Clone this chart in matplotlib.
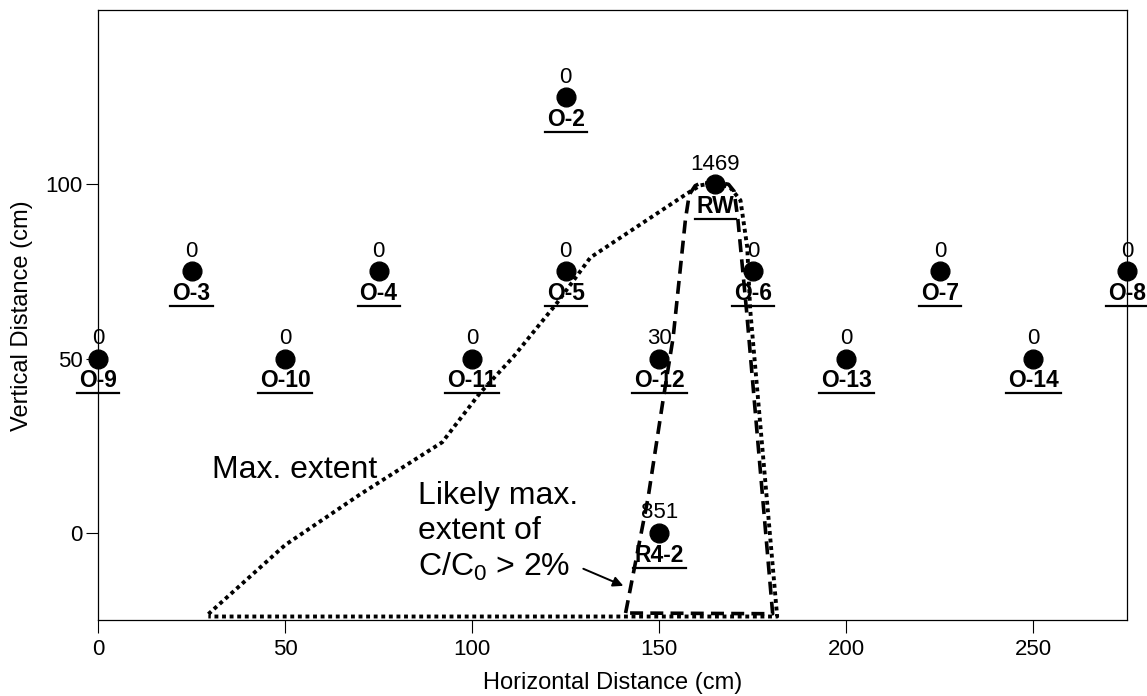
import matplotlib
matplotlib.use("Agg")
import matplotlib.pyplot as plt
from matplotlib.lines import Line2D
from matplotlib.transforms import IdentityTransform

plt.rcParams["font.family"] = ["Liberation Sans", "DejaVu Sans"]
plt.rcParams["mathtext.fontset"] = "custom"
plt.rcParams["mathtext.rm"] = "Liberation Sans"
plt.rcParams["mathtext.it"] = "Liberation Sans:italic"
plt.rcParams["mathtext.bf"] = "Liberation Sans:bold"

# wells: name, position (cm), measured value
well_names = ["O-2", "RW", "O-3", "O-4", "O-5", "O-6", "O-7", "O-8",
              "O-9", "O-10", "O-11", "O-12", "O-13", "O-14", "R4-2"]
well_x = [125, 165, 25, 75, 125, 175, 225, 275, 0, 50, 100, 150, 200, 250, 150]
well_y = [125, 100, 75, 75, 75, 75, 75, 75, 50, 50, 50, 50, 50, 50, 0]
well_vals = ["0", "1469", "0", "0", "0", "0", "0", "0",
             "0", "0", "0", "30", "0", "0", "851"]

# maximum extent (dotted outline)
max_x = [29.5, 50, 70, 92, 102, 111, 122.7, 131.6, 157.5, 161, 165, 169,
         171.7, 173.5, 174.3, 181.5, 29.5]
max_y = [-23.3, -3.5, 11, 26, 40, 50.5, 66, 79, 97.4, 99.7, 100.5, 99,
         95.4, 82, 64, -24.0, -24.0]

# likely maximum extent of C/C0 > 2% (dashed outline)
likely_x = [141, 147, 151, 153.7, 157, 158, 159.6, 161.5, 163, 166, 168.5,
            170, 171, 173.3, 180.3, 141]
likely_y = [-23, 10, 38, 56, 90, 97, 99.6, 100.6, 100.3, 100.5, 100,
            98, 90, 64, -23.2, -23.0]

fig = plt.figure(figsize=(11.47, 6.96), dpi=100)
ax = fig.add_axes([0.0854, 0.1092, 0.8972, 0.8764])

ax.plot(max_x, max_y, color="black", lw=2.8, linestyle=(0, (1, 0.95)),
        dash_capstyle="butt", zorder=2)
ax.plot(likely_x, likely_y, color="black", lw=2.6, linestyle=(0, (3.6, 2.0)),
        dash_capstyle="butt", zorder=2)

ax.plot(well_x, well_y, linestyle="none", marker="o", markersize=13.5,
        color="black", clip_on=False, zorder=4)

name_texts = []
for name, x, y, v in zip(well_names, well_x, well_y, well_vals):
    ax.annotate(v, (x, y), xytext=(0, 14.5), textcoords="offset points",
                ha="center", va="center", fontsize=16, zorder=5,
                annotation_clip=False)
    t = ax.annotate(name, (x, y), xytext=(0, -16), textcoords="offset points",
                    ha="center", va="center", fontsize=16.5,
                    fontweight="bold", zorder=5, annotation_clip=False)
    name_texts.append(t)

ax.text(30.5, 15.8, "Max. extent", fontsize=23, ha="left", va="baseline")
ax.text(85.6, -12.4, "Likely max.\nextent of\nC/C$_0$ > 2%", fontsize=23,
        ha="left", va="baseline", linespacing=1.22)
ax.annotate("", xy=(140.4, -15.2), xytext=(129.7, -10.3),
            arrowprops=dict(arrowstyle="-|>", color="black", lw=1.4,
                            mutation_scale=15, shrinkA=0, shrinkB=0))

ax.set_xlim(0, 275)
ax.set_ylim(-25, 150)
ax.set_xticks([0, 50, 100, 150, 200, 250])
ax.set_yticks([0, 50, 100])
ax.tick_params(direction="out", length=9, width=0.8, labelsize=16)
ax.tick_params(axis="x", pad=5)
ax.tick_params(axis="y", pad=2)
for s in ax.spines.values():
    s.set_linewidth(0.9)

fig.text(0.534, 0.019, "Horizontal Distance (cm)", fontsize=17,
         ha="center", va="center")
fig.text(0.019, 0.547, "Vertical Distance (cm)", fontsize=17,
         ha="center", va="center", rotation=90)

# underline the well names
fig.canvas.draw()
for t in name_texts:
    bb = t.get_window_extent()
    yl = bb.y0 - 1
    fig.add_artist(Line2D([bb.x0 - 2, bb.x1 + 2], [yl, yl], color="black",
                          lw=1.6, transform=IdentityTransform(), zorder=6))

fig.savefig("out.png", dpi=100)
